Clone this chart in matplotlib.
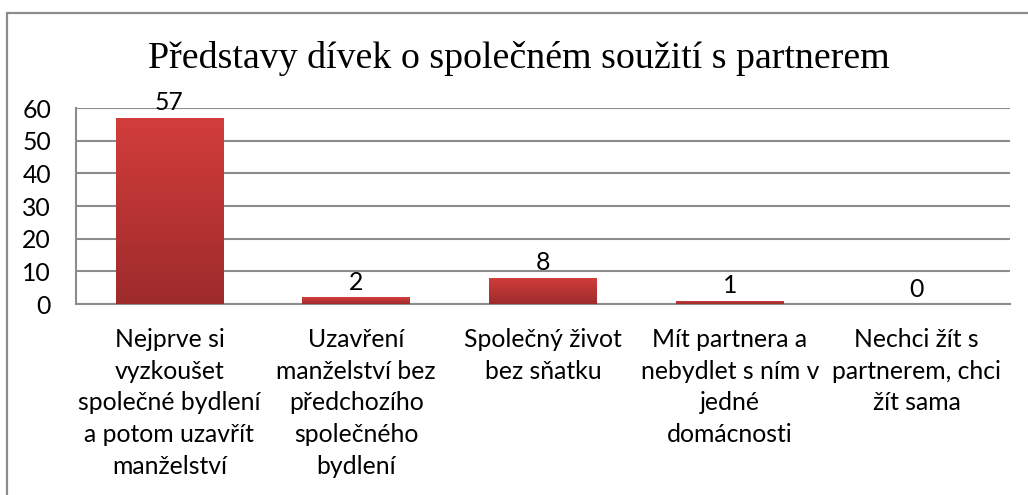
import matplotlib
matplotlib.use("Agg")
import matplotlib.pyplot as plt
import numpy as np
from matplotlib.patches import Rectangle
from matplotlib.colors import LinearSegmentedColormap

title = "Představy dívek o společném soužití s partnerem"
categories = [
    "Nejprve si\nvyzkoušet\nspolečné bydlení\na potom uzavřít\nmanželství",
    "Uzavření\nmanželství bez\npředchozího\nspolečného\nbydlení",
    "Společný život\nbez sňatku",
    "Mít partnera a\nnebydlet s ním v\njedné\ndomácnosti",
    "Nechci žít s\npartnerem, chci\nžít sama",
]
values = [57, 2, 8, 1, 0]
yticks = [0, 10, 20, 30, 40, 50, 60]

W, H = 1028, 495
FS = 17.8
fig = plt.figure(figsize=(W / 100, H / 100), dpi=100)
fig.patch.set_facecolor("white")

# outer chart border (left and top edges visible)
fig.patches.append(Rectangle((7 / W, -0.1), 1.2, 1 - 12.5 / H + 0.1,
                             transform=fig.transFigure, fill=False,
                             edgecolor="#8c8c8c", linewidth=1.6))

ax = fig.add_axes([76 / W, 1 - 304 / H, (1010 - 76) / W, (304 - 108) / H])

for s in ["top", "right"]:
    ax.spines[s].set_visible(False)
for s in ["left", "bottom"]:
    ax.spines[s].set_color("#8c8c8c")
    ax.spines[s].set_linewidth(1.5)

ax.set_yticks(yticks)
ax.yaxis.grid(True, color="#8c8c8c", linewidth=1.5)
ax.set_axisbelow(True)
ax.tick_params(axis="y", length=0, pad=18, labelsize=FS)
ax.tick_params(axis="x", length=0, pad=17.5, labelsize=FS)
for lab in ax.get_yticklabels():
    lab.set_fontfamily("Lato")

x = np.arange(len(values))
bars = ax.bar(x, values, width=0.575, color="#c13634", zorder=3)

# vertical gradient on bars
grad = np.linspace(0, 1, 256).reshape(-1, 1)
cmap = LinearSegmentedColormap.from_list("g", ["#9e2b2b", "#d23d3b"])
for b in bars:
    if b.get_height() <= 0:
        continue
    x0, y0 = b.get_x(), b.get_y()
    w, h = b.get_width(), b.get_height()
    im = ax.imshow(grad, extent=[x0, x0 + w, y0, y0 + h], origin="lower",
                   aspect="auto", cmap=cmap, zorder=4)
    im.set_clip_path(b)
ax.set_xlim(-0.5, len(values) - 0.5)
ax.set_ylim(0, 60)

for xi, v in zip(x, values):
    ax.annotate(str(v), (xi, v), xytext=(0, 2.5), textcoords="offset points",
                ha="center", va="bottom", fontsize=FS, family="Lato", zorder=5,
                annotation_clip=False)

ax.set_xticks(x)
ax.set_xticklabels(categories, family="Lato", linespacing=1.45, va="top")

fig.text(519 / W, 1 - 68 / H, title, ha="center", va="baseline",
         family="Liberation Serif", fontsize=27.3)

fig.savefig("out.png", dpi=100)
